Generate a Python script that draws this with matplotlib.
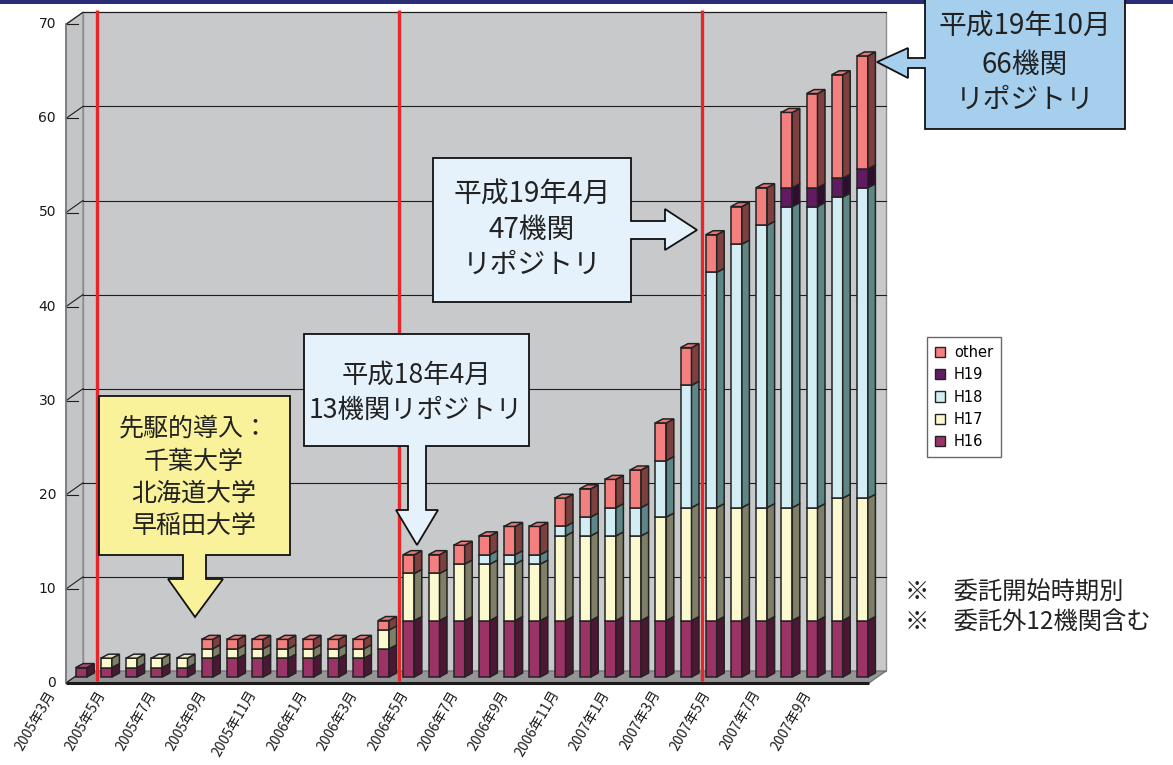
import matplotlib
matplotlib.use("Agg")
import matplotlib.pyplot as plt
from matplotlib.patches import Polygon, Rectangle, Patch

# ---------------- data ----------------
months = ["2005年3月", "2005年4月", "2005年5月", "2005年6月", "2005年7月", "2005年8月",
          "2005年9月", "2005年10月", "2005年11月", "2005年12月", "2006年1月", "2006年2月",
          "2006年3月", "2006年4月", "2006年5月", "2006年6月", "2006年7月", "2006年8月",
          "2006年9月", "2006年10月", "2006年11月", "2006年12月", "2007年1月", "2007年2月",
          "2007年3月", "2007年4月", "2007年5月", "2007年6月", "2007年7月", "2007年8月",
          "2007年9月", "2007年10月"]
H16 = [1, 1, 1, 1, 1, 2, 2, 2, 2, 2, 2, 2, 3, 6, 6, 6, 6, 6, 6, 6, 6, 6, 6, 6, 6, 6, 6, 6, 6, 6, 6, 6]
H17 = [0, 1, 1, 1, 1, 1, 1, 1, 1, 1, 1, 1, 2, 5, 5, 6, 6, 6, 6, 9, 9, 9, 9, 11, 12, 12, 12, 12, 12, 12, 13, 13]
H18 = [0, 0, 0, 0, 0, 0, 0, 0, 0, 0, 0, 0, 0, 0, 0, 0, 1, 1, 1, 1, 2, 3, 3, 6, 13, 25, 28, 30, 32, 32, 32, 33]
H19 = [0] * 28 + [2, 2, 2, 2]
other = [0, 0, 0, 0, 0, 1, 1, 1, 1, 1, 1, 1, 1, 2, 2, 2, 2, 3, 3, 3, 3, 3, 4, 4, 4, 4, 4, 4, 8, 10, 11, 12]
series_names = ["H16", "H17", "H18", "H19", "other"]
series_vals = [H16, H17, H18, H19, other]
y_ticks = [0, 10, 20, 30, 40, 50, 60, 70]

# ---------------- style ----------------
front_c = {"H16": "#9b3366", "H17": "#fcf9cf", "H18": "#d3edf4", "H19": "#621a62", "other": "#f37f7f"}
side_c = {"H16": "#4b1733", "H17": "#7f7e66", "H18": "#5f8686", "H19": "#300c30", "other": "#7e3f3f"}
top_c = {"H16": "#b0507a", "H17": "#e8e5bb", "H18": "#b8d8e0", "H19": "#7a3a7a", "other": "#e87878"}
EDGE = "#222222"

W, H = 1173, 765
fig = plt.figure(figsize=(W / 100, H / 100), dpi=100)
fig.patch.set_facecolor("white")

# axes calibrated so that the bar plane maps onto the picture
X0_PX, PITCH_PX = 81.2, 25.2
Y0_PX, UNIT_PX = 677.0, 9.41
ax = fig.add_axes([0, 0, 1, 1])
ax.set_xlim(-X0_PX / PITCH_PX, (W - X0_PX) / PITCH_PX)
ax.set_ylim((Y0_PX - H) / UNIT_PX, Y0_PX / UNIT_PX)
ax.axis("off")


def dx(px):
    return px / PITCH_PX


def dy(px_up):
    return px_up / UNIT_PX


FDX, FDY = dx(-8.5), dy(-6)   # front plane offset
BDX, BDY = dx(8.5), dy(6)     # back plane offset
XL, XR = dx(74.5 - X0_PX), dx(877.5 - X0_PX)
YMAX = y_ticks[-1]

# walls & floor
wall_c = "#c8c9cb"
ax.add_patch(Polygon([(XL + BDX, BDY), (XL + BDX, YMAX + BDY), (XR + BDX, YMAX + BDY), (XR + BDX, BDY)],
                     closed=True, facecolor=wall_c, edgecolor="#8c8c8c", lw=1.0, zorder=1))
ax.add_patch(Polygon([(XL + FDX, FDY), (XL + FDX, YMAX + FDY), (XL + BDX, YMAX + BDY), (XL + BDX, BDY)],
                     closed=True, facecolor="#c4c5c7", edgecolor="#8c8c8c", lw=1.0, zorder=1))
ax.add_patch(Polygon([(XL + FDX, FDY), (XR + FDX, FDY), (XR + BDX, BDY), (XL + BDX, BDY)],
                     closed=True, facecolor="#959597", edgecolor="#6a6a6a", lw=0.8, zorder=1))

for v in y_ticks:
    if v > 0:
        ax.plot([XL + BDX, XR + BDX], [v + BDY, v + BDY], color="#1e1e1e", lw=0.8, zorder=2)
    ax.plot([XL + FDX, XL + BDX], [v + FDY, v + BDY], color="#1e1e1e", lw=0.8, zorder=2)
    ax.plot([XL + FDX, XL + FDX + dx(12)], [v + FDY, v + FDY], color="#1e1e1e", lw=0.8, zorder=2)
    ax.text(XL + FDX - dx(10), v + FDY, str(v), ha="right", va="center",
            fontsize=10, family="DejaVu Sans", color="#1a1a1a", zorder=5)

# front axis line
ax.plot([XL + FDX, XL + FDX], [FDY, YMAX + FDY], color="#7a7a7a", lw=1.2, zorder=3)
ax.plot([XL + FDX, XR + FDX], [FDY, FDY], color="#1a1a1a", lw=2.2, zorder=3, solid_capstyle="butt")

# fiscal-year boundary red lines (at each April)
for i, m in enumerate(months):
    if m.endswith("年4月"):
        ax.plot([i - 0.37, i - 0.37], [dy(-4), dy(667)], color="#e8262a", lw=2.4, zorder=6,
                solid_capstyle="butt")

# 3D stacked bars
BW = dx(11)
SDX, SDY = dx(7.5), dy(4)
for i in range(len(months)):
    base = 0
    tops = [k for k, s in enumerate(series_vals) if s[i] > 0]
    last = tops[-1] if tops else None
    for k, name in enumerate(series_names):
        val = series_vals[k][i]
        if val <= 0:
            continue
        top = base + val
        ax.add_patch(Rectangle((i - BW / 2, base), BW, val, facecolor=front_c[name],
                               edgecolor=EDGE, lw=1.1, zorder=4))
        ax.add_patch(Polygon([(i + BW / 2, base), (i + BW / 2 + SDX, base + SDY),
                              (i + BW / 2 + SDX, top + SDY), (i + BW / 2, top)], closed=True,
                             facecolor=side_c[name], edgecolor=EDGE, lw=1.1, zorder=4))
        if k == last:
            ax.add_patch(Polygon([(i - BW / 2, top), (i - BW / 2 + SDX, top + SDY),
                                  (i + BW / 2 + SDX, top + SDY), (i + BW / 2, top)], closed=True,
                                 facecolor=top_c[name], edgecolor=EDGE, lw=1.1, zorder=4))
        base = top

# x tick labels (every other month)
for i in range(0, len(months), 2):
    ax.text(i - 0.5 + FDX - dx(2), FDY - dy(5), months[i], rotation=60, ha="right", va="top",
            fontsize=10, family=["Noto Sans CJK JP", "DejaVu Sans"], color="#1a1a1a", zorder=5)

# ---------------- legend ----------------
handles = [Patch(facecolor=front_c[n], edgecolor="#222222", lw=1.0) for n in series_names[::-1]]
leg = fig.legend(handles, series_names[::-1], loc="upper left",
                 bbox_to_anchor=(927 / W, 1 - 337 / H), frameon=True, fancybox=False,
                 prop={"family": "DejaVu Sans", "size": 10.5}, handlelength=0.7, handleheight=0.7,
                 handletextpad=0.6, labelspacing=0.5, borderpad=0.55, borderaxespad=0)
leg.get_frame().set_edgecolor("#444444")
leg.get_frame().set_linewidth(1.0)


# ---------------- annotations (figure pixel layout) ----------------
def P(pts):
    return [(x / W, 1 - y / H) for x, y in pts]


CJK = ["Noto Sans CJK JP", "DejaVu Sans"]

# navy top strip
fig.add_artist(Rectangle((0, 1 - 4 / H), 1, 4 / H, transform=fig.transFigure,
                         facecolor="#2a2c78", edgecolor="none", zorder=7))


def callout(pts, fc, lines, cx, ys, size):
    fig.add_artist(Polygon(P(pts), closed=True, transform=fig.transFigure, facecolor=fc,
                           edgecolor="#111111", lw=1.3, zorder=8))
    for t, yy in zip(lines, ys):
        fig.text(cx / W, 1 - yy / H, t, ha="center", va="center", fontsize=size,
                 family=CJK, color="#222222", zorder=9)


callout([(99, 396), (290, 396), (290, 555), (206, 555), (206, 579), (223, 579), (195, 617),
         (168, 579), (183, 579), (183, 555), (99, 555)], "#f9f29b",
        ["先駆的導入：", "千葉大学", "北海道大学", "早稲田大学"], 194, [428, 462, 494, 526], 18)

callout([(304, 334), (529, 334), (529, 446), (426, 446), (426, 510), (438, 510), (417, 545),
         (396, 510), (408, 510), (408, 446), (304, 446)], "#e6f2fb",
        ["平成18年4月", "13機関リポジトリ"], 416, [375, 410], 19)

callout([(433, 158), (631, 158), (631, 221), (665, 221), (665, 209), (697, 230), (665, 250),
         (665, 239), (631, 239), (631, 302), (433, 302)], "#e6f2fb",
        ["平成19年4月", "47機関", "リポジトリ"], 532, [195, 230, 265], 20)

callout([(925, -5), (1125, -5), (1125, 129), (925, 129), (925, 68), (908, 68), (908, 78),
         (877, 62), (908, 48), (908, 58), (925, 58)], "#a6cfee",
        ["平成19年10月", "66機関", "リポジトリ"], 1025, [27, 65, 100], 20)

fig.text(905 / W, 1 - 593 / H, "※　委託開始時期別", ha="left", va="center", fontsize=17.5,
         family=CJK, color="#222222")
fig.text(905 / W, 1 - 622 / H, "※　委託外12機関含む", ha="left", va="center", fontsize=17.5,
         family=CJK, color="#222222")

fig.savefig("out.png", dpi=100, facecolor="white")
